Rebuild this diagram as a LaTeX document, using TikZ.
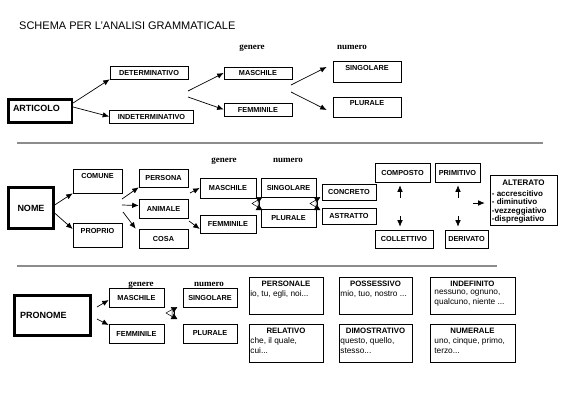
\documentclass[tikz,border=0pt]{standalone}
\usepackage{fontspec}
\setmainfont{Liberation Sans}
\newfontfamily\timesbf{Liberation Serif}
\usetikzlibrary{arrows.meta, positioning}

\tikzset{
  box/.style={draw, line width=0.6pt, inner sep=1pt, font=\fontsize{7.3}{8}\selectfont\bfseries},
  mainbox/.style={draw, line width=2.2pt, inner sep=2pt, font=\fontsize{9}{10}\selectfont\bfseries},
  lbl/.style={inner sep=0pt, font=\fontsize{7.3}{8}\selectfont\bfseries},
  phead/.style={inner sep=0pt, font=\fontsize{7.8}{9}\selectfont\bfseries},
  body/.style={inner sep=0pt, align=left, font=\fontsize{8.3}{10}\selectfont},
  hd/.style={anchor=base, inner sep=0pt, font=\timesbf\bfseries\fontsize{9}{10}\selectfont},
  arr/.style={-{Latex[length=6.5pt,width=5.5pt]}, line width=0.7pt},
  twin/.style={{Latex[reversed,length=6pt,width=7pt]}-{Latex[reversed,length=6pt,width=7pt]}, line width=0.5pt},
  sep/.style={draw=black!45, line width=1.3pt},
}

\begin{document}
\begin{tikzpicture}[x=1pt, y=-1pt]
\useasboundingbox (0,0) rectangle (566,400);

\node[anchor=west, inner sep=0pt, font=\fontsize{11}{13}\selectfont] (title) at (19,25.5) {SCHEMA PER L’ANALISI GRAMMATICALE};

% articolo
\node[mainbox, minimum width=63.5pt, minimum height=23pt, text width=54.5pt, text depth=5pt, align=left] (art) at (40.25,111) {ARTICOLO};
\node[box, minimum width=78pt, minimum height=13pt] (det) at (149,72.5) {DETERMINATIVO};
\node[box, minimum width=84pt, minimum height=13pt] (indet) at (151.5,116.5) {INDETERMINATIVO};
\draw[arr] ([yshift=8pt]art.east) -- (det.south west);
\draw[arr] ([yshift=4pt]art.east) -- (indet.west);

\node[hd] (gen1) at (252,49.5) {genere};
\node[box, minimum width=68pt, minimum height=12pt] (masc1) at (258,73) {MASCHILE};
\node[box, minimum width=68pt, minimum height=13pt] (fem1) at (258,109.5) {FEMMINILE};
\coordinate (g1a) at (188,91);
\coordinate (g1b) at (188,97);
\draw[arr] (g1a) -- (masc1.west);
\draw[arr] (g1b) -- (fem1.west);

\node[hd] (num1) at (352,49.5) {numero};
\node[box, minimum width=68pt, minimum height=21pt] (sing1) at (367,71.5) {};
\node[lbl, below=4pt of sing1.north] (sing1-t) {SINGOLARE};
\node[box, minimum width=68pt, minimum height=20pt] (plur1) at (367,107) {};
\node[lbl, below=4pt of plur1.north] (plur1-t) {PLURALE};
\coordinate (n1a) at (291,85);
\coordinate (n1b) at (291,92);
\draw[arr] (n1a) -- ([xshift=-6pt,yshift=4.5pt]sing1.west);
\draw[arr] (n1b) -- ([xshift=-6pt,yshift=-3pt]plur1.west);

\draw[sep] (17,143) -- (543,143);

% nome
\node[mainbox, minimum width=45pt, minimum height=41pt] (nome) at (31,208) {NOME};
\node[box, minimum width=49pt, minimum height=24pt] (comune) at (97.5,181) {};
\node[lbl, below=4.5pt of comune.north] (comune-t) {COMUNE};
\node[box, minimum width=49pt, minimum height=24pt] (proprio) at (97.5,235) {};
\node[lbl, below=5.5pt of proprio.north] (proprio-t) {PROPRIO};
\draw[arr] ([yshift=3pt]nome.east) -- (comune.south west);
\draw[arr] ([yshift=-5pt]nome.east) -- ([yshift=6pt]proprio.west);

\node[box, minimum width=49pt, minimum height=18pt] (persona) at (163.5,178) {PERSONA};
\node[box, minimum width=49pt, minimum height=19pt] (animale) at (163.5,208.5) {ANIMALE};
\node[box, minimum width=49pt, minimum height=19pt] (cosa) at (163.5,238.5) {COSA};
\coordinate (c2a) at (122,199);
\coordinate (c2b) at (122,205);
\coordinate (c2c) at (123,212);
\draw[arr] (c2a) -- (persona.south west);
\draw[arr] (c2b) -- ([yshift=3pt]animale.west);
\draw[arr] (c2c) -- ([xshift=-3pt]cosa.north west);

\node[hd] (gen2) at (224,162.5) {genere};
\node[hd] (num2) at (288,162.5) {numero};
\node[box, minimum width=56pt, minimum height=20pt] (masc2) at (228,188) {MASCHILE};
\node[box, minimum width=56pt, minimum height=18pt] (fem2) at (228,224) {FEMMINILE};
\coordinate (p2a) at (190,193);
\coordinate (p2b) at (189,221);
\draw[arr] (p2a) -- (masc2.west);
\draw[arr] (p2b) -- ([yshift=-5pt]fem2.west);

\node[box, minimum width=55pt, minimum height=19pt] (sing2) at (288.5,187.5) {SINGOLARE};
\node[box, minimum width=55pt, minimum height=18pt] (plur2) at (288.5,218) {PLURALE};
\coordinate (h1t) at (259,197);
\coordinate (h1b) at (259,210);
\draw[twin] (h1t) -- (h1b);
\draw[line width=0.5pt, fill=white] (252,203.5) -- (258,200) -- (258,207) -- cycle;

\node[box, minimum width=54pt, minimum height=16pt] (concr) at (349,192) {CONCRETO};
\node[box, minimum width=54pt, minimum height=16pt] (astr) at (349,216) {ASTRATTO};
\coordinate (h2t) at (317,197);
\coordinate (h2b) at (317,210);
\draw[twin] (h2t) -- (h2b);
\draw[line width=0.5pt, fill=white] (310,203.5) -- (316,200) -- (316,207) -- cycle;

\node[box, minimum width=55pt, minimum height=19pt] (comp) at (402.5,172.5) {COMPOSTO};
\node[box, minimum width=45pt, minimum height=19pt] (prim) at (457.5,172.5) {PRIMITIVO};
\node[box, minimum width=58pt, minimum height=18pt] (coll) at (404,239) {COLLETTIVO};
\node[box, minimum width=43pt, minimum height=18pt] (deriv) at (466.5,239) {DERIVATO};
\coordinate (cu) at (400,198);
\coordinate (cd) at (400,216);
\coordinate (pu) at (458,198);
\coordinate (pd) at (458,216);
\draw[arr, shorten >=3pt] (cu) -- (cu |- comp.south);
\draw[arr, shorten >=3pt] (cd) -- (cd |- coll.north);
\draw[arr, shorten >=3pt] (pu) -- (pu |- prim.south);
\draw[arr, shorten >=3pt] (pd) -- (pd |- deriv.north);

\node[box, minimum width=67pt, minimum height=50pt] (alt) at (523.5,200) {};
\node[lbl, font=\fontsize{8}{9}\selectfont\bfseries, below=5.5pt of alt.north] (alt-t) {ALTERATO};
\node[lbl, align=left, font=\fontsize{8}{8.4}\selectfont\bfseries, anchor=north west] (alt-l) at ([xshift=2pt,yshift=-15.5pt]alt.north west) {- accrescitivo\\- diminutivo\\-vezzeggiativo\\-dispregiativo};
\coordinate (ar) at (473,203);
\draw[arr, shorten >=5pt] (ar) -- (ar -| alt.west);

\draw[sep] (17,266) -- (497,266);

% pronome
\node[mainbox, minimum width=76pt, minimum height=40pt, text width=65pt, align=left] (pron) at (52.5,315.5) {PRONOME};
\node[hd] (gen3) at (141,286.5) {genere};
\node[hd] (num3) at (209,286.5) {numero};
\node[box, minimum width=55pt, minimum height=19pt] (masc3) at (136.5,297.5) {MASCHILE};
\node[box, minimum width=55pt, minimum height=19pt] (fem3) at (136.5,333.5) {FEMMINILE};
\node[box, minimum width=54pt, minimum height=19pt] (sing3) at (210,297.5) {SINGOLARE};
\node[box, minimum width=54pt, minimum height=19pt] (plur3) at (210,333.5) {PLURALE};
\coordinate (r3a) at (97,307);
\coordinate (r3b) at (97,319);
\draw[arr] (r3a) -- ([yshift=-2.5pt]masc3.west);
\draw[arr] (r3b) -- ([yshift=8.5pt]fem3.west);
\coordinate (h3t) at (174,307);
\coordinate (h3b) at (174,319);
\draw[twin] (h3t) -- (h3b);
\draw[line width=0.5pt, fill=white] (166,313) -- (172,309.5) -- (172,316.5) -- cycle;

\node[box, minimum width=74pt, minimum height=37pt] (pers) at (286,295.5) {};
\node[phead, below=4.5pt of pers.north] (pers-t) {PERSONALE};
\node[body, anchor=north west] (pers-b) at ([xshift=1.5pt,yshift=-13.5pt]pers.north west) {io, tu, egli, noi...};
\node[box, minimum width=73pt, minimum height=37pt] (poss) at (375.5,295.5) {};
\node[phead, below=4.5pt of poss.north] (poss-t) {POSSESSIVO};
\node[body, anchor=north west] (poss-b) at ([xshift=1.5pt,yshift=-13.5pt]poss.north west) {mio, tuo, nostro ...};
\node[box, minimum width=85pt, minimum height=37pt] (indef) at (472.5,295.5) {};
\node[phead, below=4.5pt of indef.north] (indef-t) {INDEFINITO};
\node[body, anchor=north west] (indef-b) at ([xshift=4.5pt,yshift=-13.5pt]indef.north west) {nessuno, ognuno,\\qualcuno, niente ...};

\node[box, minimum width=74pt, minimum height=38pt] (rel) at (286,343) {};
\node[phead, below=4.5pt of rel.north] (rel-t) {RELATIVO};
\node[body, anchor=north west] (rel-b) at ([xshift=1.5pt,yshift=-13.5pt]rel.north west) {che, il quale,\\cui...};
\node[box, minimum width=73pt, minimum height=38pt] (dimo) at (375.5,343) {};
\node[phead, below=4.5pt of dimo.north] (dimo-t) {DIMOSTRATIVO};
\node[body, anchor=north west] (dimo-b) at ([xshift=1.5pt,yshift=-13.5pt]dimo.north west) {questo, quello,\\stesso...};
\node[box, minimum width=85pt, minimum height=38pt] (num) at (472.5,343) {};
\node[phead, below=4.5pt of num.north] (num-t) {NUMERALE};
\node[body, anchor=north west] (num-b) at ([xshift=4.5pt,yshift=-13.5pt]num.north west) {uno, cinque, primo,\\terzo...};
\end{tikzpicture}
\end{document}
